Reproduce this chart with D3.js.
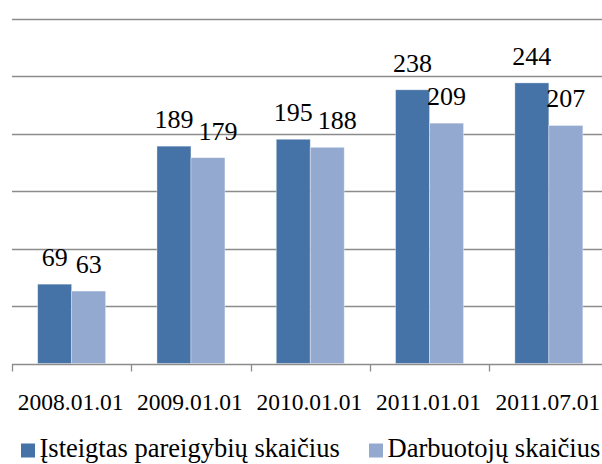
<!DOCTYPE html>
<html>
<head>
<meta charset="utf-8">
<script src="https://cdn.jsdelivr.net/npm/d3@7"></script>
<style>
  svg text { font-family: 'Liberation Serif', serif; }
</style>
</head>
<body style="margin:0">
<script>
// ---- data ----
const categories = ['2008.01.01', '2009.01.01', '2010.01.01', '2011.01.01', '2011.07.01'];
const seriesNames = ['Įsteigtas pareigybių skaičius', 'Darbuotojų skaičius'];
const established = [69, 189, 195, 238, 244];
const employees = [63, 179, 188, 209, 207];
const yTicks = [0, 50, 100, 150, 200, 250, 300];

const seriesValues = [established, employees];
const colors = ['#4572a7', '#94a9d0'];

const W = 602, H = 464;
const plot = { left: 12, right: 608.5, top: 18.5, bottom: 363.5 };
const FONT = "'Liberation Serif'";
const LABEL_SIZE = 26;

const svg = d3.select('body').append('svg')
    .attr('width', W)
    .attr('height', H)
    .attr('font-family', 'Liberation Serif');

// --- Scales ---
const x0 = d3.scaleBand().domain(categories).range([plot.left, plot.right]).padding(0);
const x1 = d3.scaleBand().domain(seriesNames).range([0, x0.bandwidth()])
    .paddingInner(0).paddingOuter(0.755);
const y = d3.scaleLinear().domain([0, 300]).range([plot.bottom, plot.top]);

// --- Gridlines ---
svg.append('g')
    .selectAll('line')
    .data(yTicks.filter(d => d > 0))
    .enter().append('line')
    .attr('x1', plot.left).attr('x2', W)
    .attr('y1', d => Math.round(y(d)) + 0.5).attr('y2', d => Math.round(y(d)) + 0.5)
    .attr('stroke', '#8c8c8c').attr('stroke-width', 1.3);

// --- Bars ---
const groups = svg.append('g')
    .selectAll('g')
    .data(categories)
    .enter().append('g')
    .attr('transform', d => `translate(${x0(d)},0)`);

groups.selectAll('rect')
    .data((d, i) => seriesNames.map((s, si) => ({ s, si, v: seriesValues[si][i] })))
    .enter().append('rect')
    .attr('x', d => x1(d.s))
    .attr('y', d => y(d.v))
    .attr('width', x1.bandwidth())
    .attr('height', d => y(0) - y(d.v))
    .attr('fill', d => colors[d.si])
    .attr('stroke', 'rgba(255,255,255,0.45)')
    .attr('stroke-width', 0.8);

// --- Axis line + boundary ticks ---
const axisY = Math.round(y(0)) + 0.5;
svg.append('line')
    .attr('x1', plot.left).attr('x2', W)
    .attr('y1', axisY).attr('y2', axisY)
    .attr('stroke', '#8c8c8c').attr('stroke-width', 1.3);

svg.append('g')
    .selectAll('line')
    .data(categories)
    .enter().append('line')
    .attr('x1', d => Math.round(x0(d)) + 0.5).attr('x2', d => Math.round(x0(d)) + 0.5)
    .attr('y1', axisY).attr('y2', axisY + 7)
    .attr('stroke', '#8c8c8c').attr('stroke-width', 1.3);

// --- Category labels ---
svg.append('g')
    .selectAll('text')
    .data(categories)
    .enter().append('text')
    .attr('x', d => x0(d) + x0.bandwidth() / 2 - 1)
    .attr('y', 410)
    .attr('text-anchor', 'middle')
    .attr('font-size', 23.5)
    .style('font-family', FONT)
    .text(d => d);

// --- Data labels ---
// serif digits are 0.5em wide; a light label that would hit the dark one is pushed right
const labelLayer = svg.append('g');
categories.forEach((c, i) => {
    const dv = established[i], lv = employees[i];
    const dcx = x0(c) + x1(seriesNames[0]) + x1.bandwidth() / 2;
    const lcx = x0(c) + x1(seriesNames[1]) + x1.bandwidth() / 2;
    const dW = String(dv).length * 0.5 * LABEL_SIZE;
    const lW = String(lv).length * 0.5 * LABEL_SIZE;
    const dBase = y(dv) - 18, lBase = y(lv) - 18;
    let lx = lcx;
    const hit = (lcx - lW / 2 < dcx + dW / 2) && Math.abs(lBase - dBase) < 18;
    if (hit) lx = dcx + dW / 2 + 5 + lW / 2;

    labelLayer.append('text')
        .attr('x', dcx).attr('y', dBase)
        .attr('text-anchor', 'middle')
        .attr('font-size', LABEL_SIZE)
        .style('font-family', FONT)
        .text(dv);
    labelLayer.append('text')
        .attr('x', lx).attr('y', lBase)
        .attr('text-anchor', 'middle')
        .attr('font-size', LABEL_SIZE)
        .style('font-family', FONT)
        .text(lv);
});

// --- Legend ---
const legendItems = [
    { name: seriesNames[0], color: colors[0], x: 21 },
    { name: seriesNames[1], color: colors[1], x: 369 }
];
const legend = svg.append('g');
legendItems.forEach(d => {
    legend.append('rect')
        .attr('x', d.x).attr('y', 443.5)
        .attr('width', 14).attr('height', 14)
        .attr('fill', d.color);
    legend.append('text')
        .attr('x', d.x + 18.5)
        .attr('y', 457)
        .attr('font-size', 26.5)
        .style('font-family', FONT)
        .text(d.name);
});
</script>
</body>
</html>
